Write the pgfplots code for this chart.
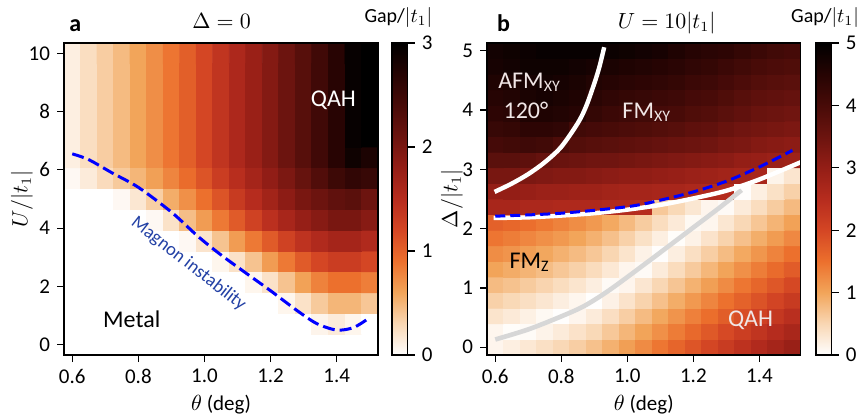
\documentclass[border=0pt]{standalone}
\usepackage{pgfplots}
\pgfplotsset{compat=1.18}
\usepackage{fontspec}
\setmainfont{Carlito}
\newcommand{\tickfont}{\fontsize{10.5}{12}\selectfont}
\newcommand{\lblfont}{\fontsize{12}{14}\selectfont}
\pgfkeys{/pgf/number format/assume math mode=true}
\definecolor{magblue}{RGB}{35,65,165}
\definecolor{softwhite}{RGB}{240,230,230}
\definecolor{lgray}{RGB}{215,215,215}
\pgfplotsset{
  colormap={gap}{rgb255=(255,255,255) rgb255=(249,215,180) rgb255=(242,165,90) rgb255=(236,112,45) rgb255=(212,70,36) rgb255=(182,44,30) rgb255=(148,30,22) rgb255=(108,20,15) rgb255=(72,11,8) rgb255=(38,4,3) rgb255=(0,0,0)},
  hm/.style={scale only axis, width=157pt, height=156pt, anchor=south west,
    xmin=0.575, xmax=1.525, xtick={0.6,0.8,1.0,1.2,1.4},
    xticklabel style={/pgf/number format/.cd, fixed, fixed zerofill, precision=1},
    tick align=outside, xtick pos=bottom, ytick pos=left, major tick length=3.5pt,
    tick style={black, line width=0.6pt}, axis line style={line width=0.7pt},
    ticklabel style={font=\tickfont}, colormap name=gap, axis on top,
    colorbar, },
  cb/.style={scale only axis, at={(parent axis.south east)}, anchor=south west, xshift=#1, width=7.85pt, height=156pt,
    tick align=outside, ytick pos=right, yticklabel pos=right, major tick length=3.5pt,
    tick style={black, line width=0.6pt}, axis line style={line width=0.7pt},
    yticklabel style={font=\tickfont}},
}
\begin{document}
\begin{tikzpicture}[x=1pt,y=1pt]
\useasboundingbox (0,0) rectangle (432,209);
% ---------------- panel a ----------------
\begin{axis}[hm, at={(32pt,31.5pt)}, ymin=-0.357, ymax=10.357, ytick={0,2,4,6,8,10},
  point meta min=0, point meta max=3,
  colorbar style={cb=-1.5pt, ytick={0,1,2,3}}]
\addplot[matrix plot*, mesh/cols=19, mesh/rows=15, point meta=explicit] coordinates {
(0.6,0)[0] (0.65,0)[0] (0.7,0)[0] (0.75,0)[0] (0.8,0)[0] (0.85,0)[0] (0.9,0)[0] (0.95,0)[0] (1.0,0)[0] (1.05,0)[0] (1.1,0)[0] (1.15,0)[0] (1.2,0)[0] (1.25,0)[0] (1.3,0)[0] (1.35,0)[0] (1.4,0)[0] (1.45,0)[0] (1.5,0)[0]
(0.6,0.7143)[0] (0.65,0.7143)[0] (0.7,0.7143)[0] (0.75,0.7143)[0] (0.8,0.7143)[0] (0.85,0.7143)[0] (0.9,0.7143)[0] (0.95,0.7143)[0] (1.0,0.7143)[0] (1.05,0.7143)[0] (1.1,0.7143)[0] (1.15,0.7143)[0] (1.2,0.7143)[0] (1.25,0.7143)[0] (1.3,0.7143)[0] (1.35,0.7143)[0.08] (1.4,0.7143)[0.15] (1.45,0.7143)[0.07] (1.5,0.7143)[0]
(0.6,1.4286)[0] (0.65,1.4286)[0] (0.7,1.4286)[0] (0.75,1.4286)[0] (0.8,1.4286)[0] (0.85,1.4286)[0] (0.9,1.4286)[0] (0.95,1.4286)[0] (1.0,1.4286)[0] (1.05,1.4286)[0] (1.1,1.4286)[0] (1.15,1.4286)[0] (1.2,1.4286)[0] (1.25,1.4286)[0.07] (1.3,1.4286)[0.22] (1.35,1.4286)[0.38] (1.4,1.4286)[0.5] (1.45,1.4286)[0.5] (1.5,1.4286)[0.4]
(0.6,2.1429)[0] (0.65,2.1429)[0] (0.7,2.1429)[0] (0.75,2.1429)[0] (0.8,2.1429)[0] (0.85,2.1429)[0] (0.9,2.1429)[0] (0.95,2.1429)[0] (1.0,2.1429)[0] (1.05,2.1429)[0] (1.1,2.1429)[0] (1.15,2.1429)[0.07] (1.2,2.1429)[0.22] (1.25,2.1429)[0.42] (1.3,2.1429)[0.62] (1.35,2.1429)[0.8] (1.4,2.1429)[0.9] (1.45,2.1429)[0.9] (1.5,2.1429)[0.82]
(0.6,2.8571)[0] (0.65,2.8571)[0] (0.7,2.8571)[0] (0.75,2.8571)[0] (0.8,2.8571)[0] (0.85,2.8571)[0] (0.9,2.8571)[0] (0.95,2.8571)[0] (1.0,2.8571)[0] (1.05,2.8571)[0.07] (1.1,2.8571)[0.22] (1.15,2.8571)[0.42] (1.2,2.8571)[0.65] (1.25,2.8571)[0.85] (1.3,2.8571)[1.05] (1.35,2.8571)[1.2] (1.4,2.8571)[1.3] (1.45,2.8571)[1.3] (1.5,2.8571)[1.2]
(0.6,3.5714)[0] (0.65,3.5714)[0] (0.7,3.5714)[0] (0.75,3.5714)[0] (0.8,3.5714)[0] (0.85,3.5714)[0] (0.9,3.5714)[0] (0.95,3.5714)[0.05] (1.0,3.5714)[0.2] (1.05,3.5714)[0.42] (1.1,3.5714)[0.65] (1.15,3.5714)[0.85] (1.2,3.5714)[1.05] (1.25,3.5714)[1.25] (1.3,3.5714)[1.42] (1.35,3.5714)[1.55] (1.4,3.5714)[1.65] (1.45,3.5714)[1.65] (1.5,3.5714)[1.55]
(0.6,4.2857)[0] (0.65,4.2857)[0] (0.7,4.2857)[0] (0.75,4.2857)[0] (0.8,4.2857)[0] (0.85,4.2857)[0.05] (0.9,4.2857)[0.22] (0.95,4.2857)[0.45] (1.0,4.2857)[0.65] (1.05,4.2857)[0.85] (1.1,4.2857)[1.05] (1.15,4.2857)[1.25] (1.2,4.2857)[1.45] (1.25,4.2857)[1.62] (1.3,4.2857)[1.78] (1.35,4.2857)[1.9] (1.4,4.2857)[2.0] (1.45,4.2857)[2.0] (1.5,4.2857)[1.9]
(0.6,5)[0] (0.65,5)[0] (0.7,5)[0] (0.75,5)[0.05] (0.8,5)[0.18] (0.85,5)[0.35] (0.9,5)[0.55] (0.95,5)[0.72] (1.0,5)[0.9] (1.05,5)[1.1] (1.1,5)[1.33] (1.15,5)[1.5] (1.2,5)[1.68] (1.25,5)[1.85] (1.3,5)[2.0] (1.35,5)[2.1] (1.4,5)[2.2] (1.45,5)[2.25] (1.5,5)[2.1]
(0.6,5.7143)[0.05] (0.65,5.7143)[0.15] (0.7,5.7143)[0.27] (0.75,5.7143)[0.38] (0.8,5.7143)[0.5] (0.85,5.7143)[0.63] (0.9,5.7143)[0.78] (0.95,5.7143)[0.93] (1.0,5.7143)[1.1] (1.05,5.7143)[1.3] (1.1,5.7143)[1.48] (1.15,5.7143)[1.65] (1.2,5.7143)[1.82] (1.25,5.7143)[1.98] (1.3,5.7143)[2.15] (1.35,5.7143)[2.33] (1.4,5.7143)[2.5] (1.45,5.7143)[2.6] (1.5,5.7143)[2.55]
(0.6,6.4286)[0.12] (0.65,6.4286)[0.25] (0.7,6.4286)[0.36] (0.75,6.4286)[0.47] (0.8,6.4286)[0.6] (0.85,6.4286)[0.73] (0.9,6.4286)[0.87] (0.95,6.4286)[1.02] (1.0,6.4286)[1.2] (1.05,6.4286)[1.4] (1.1,6.4286)[1.58] (1.15,6.4286)[1.75] (1.2,6.4286)[1.92] (1.25,6.4286)[2.1] (1.3,6.4286)[2.28] (1.35,6.4286)[2.47] (1.4,6.4286)[2.68] (1.45,6.4286)[2.88] (1.5,6.4286)[2.78]
(0.6,7.1429)[0.12] (0.65,7.1429)[0.25] (0.7,7.1429)[0.36] (0.75,7.1429)[0.47] (0.8,7.1429)[0.6] (0.85,7.1429)[0.73] (0.9,7.1429)[0.87] (0.95,7.1429)[1.02] (1.0,7.1429)[1.2] (1.05,7.1429)[1.4] (1.1,7.1429)[1.58] (1.15,7.1429)[1.75] (1.2,7.1429)[1.92] (1.25,7.1429)[2.1] (1.3,7.1429)[2.28] (1.35,7.1429)[2.47] (1.4,7.1429)[2.68] (1.45,7.1429)[2.95] (1.5,7.1429)[3.0]
(0.6,7.8571)[0.12] (0.65,7.8571)[0.25] (0.7,7.8571)[0.36] (0.75,7.8571)[0.47] (0.8,7.8571)[0.6] (0.85,7.8571)[0.73] (0.9,7.8571)[0.87] (0.95,7.8571)[1.02] (1.0,7.8571)[1.2] (1.05,7.8571)[1.4] (1.1,7.8571)[1.58] (1.15,7.8571)[1.75] (1.2,7.8571)[1.92] (1.25,7.8571)[2.1] (1.3,7.8571)[2.28] (1.35,7.8571)[2.47] (1.4,7.8571)[2.68] (1.45,7.8571)[2.95] (1.5,7.8571)[3.0]
(0.6,8.5714)[0.12] (0.65,8.5714)[0.25] (0.7,8.5714)[0.36] (0.75,8.5714)[0.47] (0.8,8.5714)[0.6] (0.85,8.5714)[0.73] (0.9,8.5714)[0.87] (0.95,8.5714)[1.02] (1.0,8.5714)[1.2] (1.05,8.5714)[1.4] (1.1,8.5714)[1.58] (1.15,8.5714)[1.75] (1.2,8.5714)[1.92] (1.25,8.5714)[2.1] (1.3,8.5714)[2.28] (1.35,8.5714)[2.47] (1.4,8.5714)[2.68] (1.45,8.5714)[2.95] (1.5,8.5714)[3.0]
(0.6,9.2857)[0.12] (0.65,9.2857)[0.25] (0.7,9.2857)[0.36] (0.75,9.2857)[0.47] (0.8,9.2857)[0.6] (0.85,9.2857)[0.73] (0.9,9.2857)[0.87] (0.95,9.2857)[1.02] (1.0,9.2857)[1.2] (1.05,9.2857)[1.4] (1.1,9.2857)[1.58] (1.15,9.2857)[1.75] (1.2,9.2857)[1.92] (1.25,9.2857)[2.1] (1.3,9.2857)[2.28] (1.35,9.2857)[2.47] (1.4,9.2857)[2.68] (1.45,9.2857)[2.95] (1.5,9.2857)[3.0]
(0.6,10)[0.12] (0.65,10)[0.25] (0.7,10)[0.36] (0.75,10)[0.47] (0.8,10)[0.6] (0.85,10)[0.73] (0.9,10)[0.87] (0.95,10)[1.02] (1.0,10)[1.2] (1.05,10)[1.4] (1.1,10)[1.58] (1.15,10)[1.75] (1.2,10)[1.92] (1.25,10)[2.1] (1.3,10)[2.28] (1.35,10)[2.47] (1.4,10)[2.68] (1.45,10)[2.95] (1.5,10)[3.0]
};
\addplot[blue, line width=1.5pt, dash pattern=on 6pt off 2.5pt, smooth] coordinates {
(0.6,6.55) (0.65,6.35) (0.72,5.9) (0.8,5.4) (0.9,4.55) (0.98,3.72) (1.05,3.08) (1.13,2.42) (1.2,1.85) (1.28,1.17) (1.34,0.72) (1.4,0.5) (1.45,0.58) (1.49,0.85)};
\node[white, font=\lblfont] at (axis cs:1.39,8.4) {QAH};
\node[black, font=\lblfont] at (axis cs:0.78,0.88) {Metal};
\node[magblue, font=\fontsize{9.3}{11}\selectfont, rotate=-38] at (axis cs:0.952,2.77) {Magnon instability};
\end{axis}
% ---------------- panel b ----------------
\begin{axis}[hm, at={(243.5pt,31.5pt)}, width=156.85pt, ymin=-0.1316, ymax=5.1316, ytick={0,1,2,3,4,5},
  point meta min=0, point meta max=5,
  colorbar style={cb=-0.85pt, ytick={0,1,2,3,4,5}}]
\addplot[matrix plot*, mesh/cols=19, mesh/rows=20, point meta=explicit] coordinates {
(0.6,0)[0.12] (0.65,0)[0.20] (0.7,0)[0.29] (0.75,0)[0.39] (0.8,0)[0.49] (0.85,0)[0.59] (0.9,0)[0.72] (0.95,0)[0.88] (1.0,0)[1.06] (1.05,0)[1.25] (1.1,0)[1.44] (1.15,0)[1.63] (1.2,0)[1.82] (1.25,0)[2.01] (1.3,0)[2.20] (1.35,0)[2.39] (1.4,0)[2.57] (1.45,0)[2.75] (1.5,0)[2.93]
(0.6,0.2632)[0.11] (0.65,0.2632)[0.03] (0.7,0.2632)[0.05] (0.75,0.2632)[0.15] (0.8,0.2632)[0.25] (0.85,0.2632)[0.36] (0.9,0.2632)[0.48] (0.95,0.2632)[0.65] (1.0,0.2632)[0.83] (1.05,0.2632)[1.01] (1.1,0.2632)[1.20] (1.15,0.2632)[1.39] (1.2,0.2632)[1.58] (1.25,0.2632)[1.77] (1.3,0.2632)[1.96] (1.35,0.2632)[2.15] (1.4,0.2632)[2.33] (1.45,0.2632)[2.51] (1.5,0.2632)[2.69]
(0.6,0.5263)[0.34] (0.65,0.5263)[0.26] (0.7,0.5263)[0.18] (0.75,0.5263)[0.08] (0.8,0.5263)[0.01] (0.85,0.5263)[0.12] (0.9,0.5263)[0.25] (0.95,0.5263)[0.41] (1.0,0.5263)[0.59] (1.05,0.5263)[0.78] (1.1,0.5263)[0.97] (1.15,0.5263)[1.16] (1.2,0.5263)[1.35] (1.25,0.5263)[1.53] (1.3,0.5263)[1.72] (1.35,0.5263)[1.91] (1.4,0.5263)[2.09] (1.45,0.5263)[2.27] (1.5,0.5263)[2.45]
(0.6,0.7895)[0.56] (0.65,0.7895)[0.48] (0.7,0.7895)[0.40] (0.75,0.7895)[0.31] (0.8,0.7895)[0.21] (0.85,0.7895)[0.11] (0.9,0.7895)[0.01] (0.95,0.7895)[0.17] (1.0,0.7895)[0.35] (1.05,0.7895)[0.54] (1.1,0.7895)[0.73] (1.15,0.7895)[0.92] (1.2,0.7895)[1.11] (1.25,0.7895)[1.30] (1.3,0.7895)[1.49] (1.35,0.7895)[1.67] (1.4,0.7895)[1.85] (1.45,0.7895)[2.03] (1.5,0.7895)[2.21]
(0.6,1.0526)[0.78] (0.65,1.0526)[0.71] (0.7,1.0526)[0.62] (0.75,1.0526)[0.53] (0.8,1.0526)[0.43] (0.85,1.0526)[0.33] (0.9,1.0526)[0.21] (0.95,1.0526)[0.06] (1.0,1.0526)[0.12] (1.05,1.0526)[0.31] (1.1,1.0526)[0.50] (1.15,1.0526)[0.68] (1.2,1.0526)[0.87] (1.25,1.0526)[1.06] (1.3,1.0526)[1.25] (1.35,1.0526)[1.44] (1.4,1.0526)[1.62] (1.45,1.0526)[1.80] (1.5,1.0526)[1.98]
(0.6,1.3158)[1.01] (0.65,1.3158)[0.93] (0.7,1.3158)[0.85] (0.75,1.3158)[0.76] (0.8,1.3158)[0.66] (0.85,1.3158)[0.56] (0.9,1.3158)[0.44] (0.95,1.3158)[0.29] (1.0,1.3158)[0.12] (1.05,1.3158)[0.06] (1.1,1.3158)[0.25] (1.15,1.3158)[0.44] (1.2,1.3158)[0.63] (1.25,1.3158)[0.82] (1.3,1.3158)[1.01] (1.35,1.3158)[1.20] (1.4,1.3158)[1.38] (1.45,1.3158)[1.56] (1.5,1.3158)[1.74]
(0.6,1.5789)[1.23] (0.65,1.5789)[1.16] (0.7,1.5789)[1.07] (0.75,1.5789)[0.98] (0.8,1.5789)[0.88] (0.85,1.5789)[0.78] (0.9,1.5789)[0.66] (0.95,1.5789)[0.51] (1.0,1.5789)[0.34] (1.05,1.5789)[0.16] (1.1,1.5789)[0.02] (1.15,1.5789)[0.21] (1.2,1.5789)[0.40] (1.25,1.5789)[0.59] (1.3,1.5789)[0.77] (1.35,1.5789)[0.96] (1.4,1.5789)[1.14] (1.45,1.5789)[1.32] (1.5,1.5789)[1.50]
(0.6,1.8421)[1.45] (0.65,1.8421)[1.38] (0.7,1.8421)[1.29] (0.75,1.8421)[1.20] (0.8,1.8421)[1.11] (0.85,1.8421)[1.00] (0.9,1.8421)[0.88] (0.95,1.8421)[0.73] (1.0,1.8421)[0.56] (1.05,1.8421)[0.38] (1.1,1.8421)[0.20] (1.15,1.8421)[0.03] (1.2,1.8421)[0.16] (1.25,1.8421)[0.35] (1.3,1.8421)[0.54] (1.35,1.8421)[0.73] (1.4,1.8421)[0.91] (1.45,1.8421)[1.09] (1.5,1.8421)[1.27]
(0.6,2.1053)[1.68] (0.65,2.1053)[1.61] (0.7,2.1053)[1.52] (0.75,2.1053)[1.43] (0.8,2.1053)[1.33] (0.85,2.1053)[1.23] (0.9,2.1053)[1.11] (0.95,2.1053)[0.96] (1.0,2.1053)[0.79] (1.05,2.1053)[0.61] (1.1,2.1053)[0.43] (1.15,2.1053)[0.26] (1.2,2.1053)[0.08] (1.25,2.1053)[0.11] (1.3,2.1053)[0.30] (1.35,2.1053)[0.49] (1.4,2.1053)[0.67] (1.45,2.1053)[0.85] (1.5,2.1053)[1.03]
(0.6,2.3684)[2.7] (0.65,2.3684)[2.7] (0.7,2.3684)[2.65] (0.75,2.3684)[2.65] (0.8,2.3684)[2.6] (0.85,2.3684)[2.6] (0.9,2.3684)[2.6] (0.95,2.3684)[2.55] (1.0,2.3684)[2.55] (1.05,2.3684)[2.5] (1.1,2.3684)[0.65] (1.15,2.3684)[0.48] (1.2,2.3684)[0.30] (1.25,2.3684)[0.12] (1.3,2.3684)[0.06] (1.35,2.3684)[0.25] (1.4,2.3684)[0.43] (1.45,2.3684)[0.61] (1.5,2.3684)[0.79]
(0.6,2.6316)[3.0] (0.65,2.6316)[3.0] (0.7,2.6316)[2.95] (0.75,2.6316)[2.9] (0.8,2.6316)[2.9] (0.85,2.6316)[2.85] (0.9,2.6316)[2.85] (0.95,2.6316)[2.8] (1.0,2.6316)[2.75] (1.05,2.6316)[2.75] (1.1,2.6316)[2.7] (1.15,2.6316)[2.7] (1.2,2.6316)[2.65] (1.25,2.6316)[2.6] (1.3,2.6316)[2.55] (1.35,2.6316)[0.02] (1.4,2.6316)[0.20] (1.45,2.6316)[0.38] (1.5,2.6316)[0.56]
(0.6,2.8947)[3.35] (0.65,2.8947)[3.35] (0.7,2.8947)[3.3] (0.75,2.8947)[3.25] (0.8,2.8947)[3.2] (0.85,2.8947)[3.2] (0.9,2.8947)[3.15] (0.95,2.8947)[3.1] (1.0,2.8947)[3.05] (1.05,2.8947)[3.05] (1.1,2.8947)[3.0] (1.15,2.8947)[2.95] (1.2,2.8947)[2.9] (1.25,2.8947)[2.85] (1.3,2.8947)[2.8] (1.35,2.8947)[2.75] (1.4,2.8947)[2.7] (1.45,2.8947)[0.14] (1.5,2.8947)[0.32]
(0.6,3.1579)[3.75] (0.65,3.1579)[3.75] (0.7,3.1579)[3.7] (0.75,3.1579)[3.6] (0.8,3.1579)[3.55] (0.85,3.1579)[3.5] (0.9,3.1579)[3.45] (0.95,3.1579)[3.45] (1.0,3.1579)[3.4] (1.05,3.1579)[3.35] (1.1,3.1579)[3.3] (1.15,3.1579)[3.25] (1.2,3.1579)[3.2] (1.25,3.1579)[3.15] (1.3,3.1579)[3.1] (1.35,3.1579)[3.0] (1.4,3.1579)[2.95] (1.45,3.1579)[2.9] (1.5,3.1579)[2.85]
(0.6,3.4211)[4.05] (0.65,3.4211)[4.1] (0.7,3.4211)[4.15] (0.75,3.4211)[4.1] (0.8,3.4211)[3.95] (0.85,3.4211)[3.85] (0.9,3.4211)[3.8] (0.95,3.4211)[3.75] (1.0,3.4211)[3.7] (1.05,3.4211)[3.65] (1.1,3.4211)[3.6] (1.15,3.4211)[3.55] (1.2,3.4211)[3.5] (1.25,3.4211)[3.45] (1.3,3.4211)[3.35] (1.35,3.4211)[3.3] (1.4,3.4211)[3.2] (1.45,3.4211)[3.15] (1.5,3.4211)[3.1]
(0.6,3.6842)[4.25] (0.65,3.6842)[4.3] (0.7,3.6842)[4.4] (0.75,3.6842)[4.4] (0.8,3.6842)[4.35] (0.85,3.6842)[4.1] (0.9,3.6842)[4.05] (0.95,3.6842)[4.0] (1.0,3.6842)[3.95] (1.05,3.6842)[3.9] (1.1,3.6842)[3.85] (1.15,3.6842)[3.8] (1.2,3.6842)[3.7] (1.25,3.6842)[3.65] (1.3,3.6842)[3.55] (1.35,3.6842)[3.45] (1.4,3.6842)[3.4] (1.45,3.6842)[3.35] (1.5,3.6842)[3.3]
(0.6,3.9474)[4.4] (0.65,3.9474)[4.45] (0.7,3.9474)[4.6] (0.75,3.9474)[4.6] (0.8,3.9474)[4.55] (0.85,3.9474)[4.5] (0.9,3.9474)[4.3] (0.95,3.9474)[4.2] (1.0,3.9474)[4.15] (1.05,3.9474)[4.1] (1.1,3.9474)[4.05] (1.15,3.9474)[4.0] (1.2,3.9474)[3.9] (1.25,3.9474)[3.85] (1.3,3.9474)[3.75] (1.35,3.9474)[3.65] (1.4,3.9474)[3.55] (1.45,3.9474)[3.5] (1.5,3.9474)[3.45]
(0.6,4.2105)[4.5] (0.65,4.2105)[4.55] (0.7,4.2105)[4.65] (0.75,4.2105)[4.7] (0.8,4.2105)[4.65] (0.85,4.2105)[4.6] (0.9,4.2105)[4.45] (0.95,4.2105)[4.35] (1.0,4.2105)[4.3] (1.05,4.2105)[4.25] (1.1,4.2105)[4.2] (1.15,4.2105)[4.15] (1.2,4.2105)[4.05] (1.25,4.2105)[4.0] (1.3,4.2105)[3.9] (1.35,4.2105)[3.8] (1.4,4.2105)[3.7] (1.45,4.2105)[3.65] (1.5,4.2105)[3.6]
(0.6,4.4737)[4.6] (0.65,4.4737)[4.65] (0.7,4.4737)[4.7] (0.75,4.4737)[4.75] (0.8,4.4737)[4.7] (0.85,4.4737)[4.65] (0.9,4.4737)[4.55] (0.95,4.4737)[4.5] (1.0,4.4737)[4.45] (1.05,4.4737)[4.4] (1.1,4.4737)[4.35] (1.15,4.4737)[4.3] (1.2,4.4737)[4.2] (1.25,4.4737)[4.15] (1.3,4.4737)[4.05] (1.35,4.4737)[3.95] (1.4,4.4737)[3.85] (1.45,4.4737)[3.8] (1.5,4.4737)[3.75]
(0.6,4.7368)[4.7] (0.65,4.7368)[4.75] (0.7,4.7368)[4.8] (0.75,4.7368)[4.8] (0.8,4.7368)[4.8] (0.85,4.7368)[4.75] (0.9,4.7368)[4.7] (0.95,4.7368)[4.65] (1.0,4.7368)[4.6] (1.05,4.7368)[4.55] (1.1,4.7368)[4.5] (1.15,4.7368)[4.45] (1.2,4.7368)[4.35] (1.25,4.7368)[4.3] (1.3,4.7368)[4.2] (1.35,4.7368)[4.1] (1.4,4.7368)[4.0] (1.45,4.7368)[3.95] (1.5,4.7368)[3.9]
(0.6,5)[4.75] (0.65,5)[4.8] (0.7,5)[4.85] (0.75,5)[4.9] (0.8,5)[4.9] (0.85,5)[4.9] (0.9,5)[4.9] (0.95,5)[4.85] (1.0,5)[4.8] (1.05,5)[4.75] (1.1,5)[4.7] (1.15,5)[4.6] (1.2,5)[4.5] (1.25,5)[4.45] (1.3,5)[4.4] (1.35,5)[4.3] (1.4,5)[4.2] (1.45,5)[4.1] (1.5,5)[4.05]
};
\addplot[lgray, line width=2.3pt, smooth] coordinates {
(0.6,0.13) (0.7,0.3) (0.8,0.52) (0.871,0.70) (0.95,0.98) (1.074,1.49) (1.2,2.02) (1.276,2.34) (1.346,2.65)};
\addplot[white, line width=2.2pt, smooth] coordinates {
(0.598,2.62) (0.65,2.76) (0.7,2.92) (0.75,3.12) (0.8,3.38) (0.85,3.78) (0.875,4.06) (0.9,4.45) (0.915,4.72) (0.93,5.06)};
\addplot[white, line width=2.2pt, smooth] coordinates {
(0.595,2.18) (0.7,2.19) (0.8,2.22) (0.9,2.26) (1.0,2.32) (1.1,2.40) (1.2,2.51) (1.3,2.64) (1.4,2.83) (1.525,3.12)};
\addplot[blue, line width=1.5pt, dash pattern=on 5pt off 2.5pt, smooth] coordinates {
(0.6,2.21) (0.8,2.26) (1.0,2.37) (1.1,2.48) (1.2,2.62) (1.3,2.8) (1.4,3.04) (1.5,3.32)};
\node[softwhite, font=\lblfont] at (axis cs:0.704,4.47) {AFM\textsubscript{XY}};
\node[softwhite, font=\lblfont] at (axis cs:0.693,3.99) {120°};
\node[softwhite, font=\lblfont] at (axis cs:1.059,3.96) {FM\textsubscript{XY}};
\node[black, font=\lblfont] at (axis cs:0.704,1.43) {FM\textsubscript{Z}};
\node[softwhite, font=\lblfont] at (axis cs:1.373,0.45) {QAH};
\end{axis}
% ---------------- titles and labels ----------------
\node[anchor=base, font=\fontsize{12}{14}\selectfont\bfseries] at (37.7,193.2) {a};
\node[anchor=base, font=\fontsize{10.5}{12}\selectfont] at (110.8,194.8) {$\Delta=0$};
\node[anchor=base, font=\fontsize{10}{12}\selectfont] at (199.2,197.5) {Gap/$|t_1|$};
\node[anchor=base, font=\fontsize{12}{14}\selectfont\bfseries] at (251.8,193.2) {b};
\node[anchor=base, font=\fontsize{10.5}{12}\selectfont] at (333.3,194.8) {$U=10|t_1|$};
\node[anchor=base, font=\fontsize{10}{12}\selectfont] at (412.5,197.5) {Gap/$|t_1|$};
\node[rotate=90, font=\fontsize{10.5}{12}\selectfont] at (11,109.5) {$U/|t_1|$};
\node[rotate=90, font=\fontsize{10.5}{12}\selectfont] at (226,109.5) {$\Delta/|t_1|$};
\node[font=\fontsize{10.5}{12}\selectfont] at (110.5,6.5) {$\theta$ (deg)};
\node[font=\fontsize{10.5}{12}\selectfont] at (321.9,6.5) {$\theta$ (deg)};
\end{tikzpicture}
\end{document}
